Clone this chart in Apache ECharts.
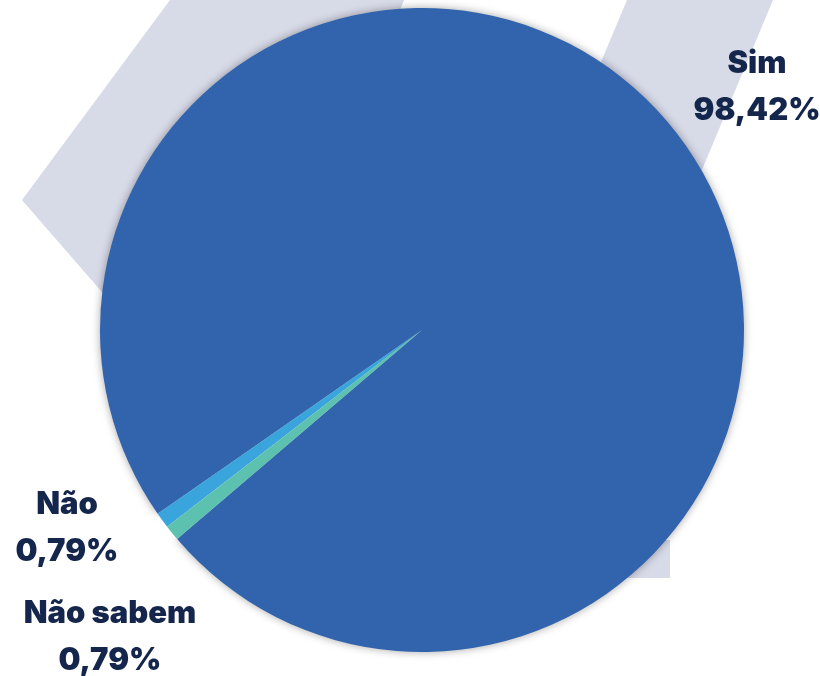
<!DOCTYPE html>
<html>
<head>
<meta charset="utf-8">
<script src="https://cdn.jsdelivr.net/npm/echarts@6/dist/echarts.min.js"></script>
<style>
html,body{margin:0;padding:0;background:#ffffff;}
#chart{width:820px;height:676px;}
</style>
</head>
<body>
<div id="chart"></div>
<script>
// Data
const categories = ['Sim', 'Não', 'Não sabem'];
const values = [98.42, 0.79, 0.79];
const colors = ['#3264ae', '#3aa4dc', '#5dc1b0'];

// Label placement (block centers) for each category
const labelPos = [[757, 87], [67, 528], [110, 637]];

function fmt(v) { return v.toFixed(2).replace('.', ',') + '%'; }

const chart = echarts.init(document.getElementById('chart'), null, { renderer: 'canvas' });

const bandStyle = { fill: '#d7dae7' };

chart.setOption({
  backgroundColor: '#ffffff',
  animation: false,
  graphic: [
    { type: 'polygon', z: -10, silent: true, shape: { points: [[170,0],[404,0],[380,60],[300,300],[200,405],[22,200]] }, style: bandStyle },
    { type: 'polygon', z: -10, silent: true, shape: { points: [[627,0],[773,0],[681,220],[557,167]] }, style: bandStyle },
    { type: 'polygon', z: -10, silent: true, shape: { points: [[600,540],[670,540],[670,578],[600,578]] }, style: bandStyle }
  ],
  series: [{
    type: 'pie',
    center: [422, 330],
    radius: 322,
    startAngle: 220.5,
    clockwise: false,
    avoidLabelOverlap: false,
    labelLine: { show: false },
    label: {
      show: true,
      position: 'outside',
      formatter: p => p.name + '\n' + fmt(p.value),
      color: '#15264d',
      fontFamily: 'Inter',
      fontWeight: 900,
      fontSize: 31,
      lineHeight: 47,
      align: 'center'
    },
    labelLayout: function (params) {
      const pos = labelPos[params.dataIndex];
      return { x: pos[0], y: pos[1], align: 'center', verticalAlign: 'middle' };
    },
    data: categories.map((c, i) => ({
      name: c,
      value: values[i],
      itemStyle: i === 0
        ? { color: colors[i], shadowBlur: 8, shadowColor: 'rgba(0,0,0,0.35)' }
        : { color: colors[i] }
    })),
    emphasis: { disabled: true }
  }]
});
</script>
</body>
</html>
